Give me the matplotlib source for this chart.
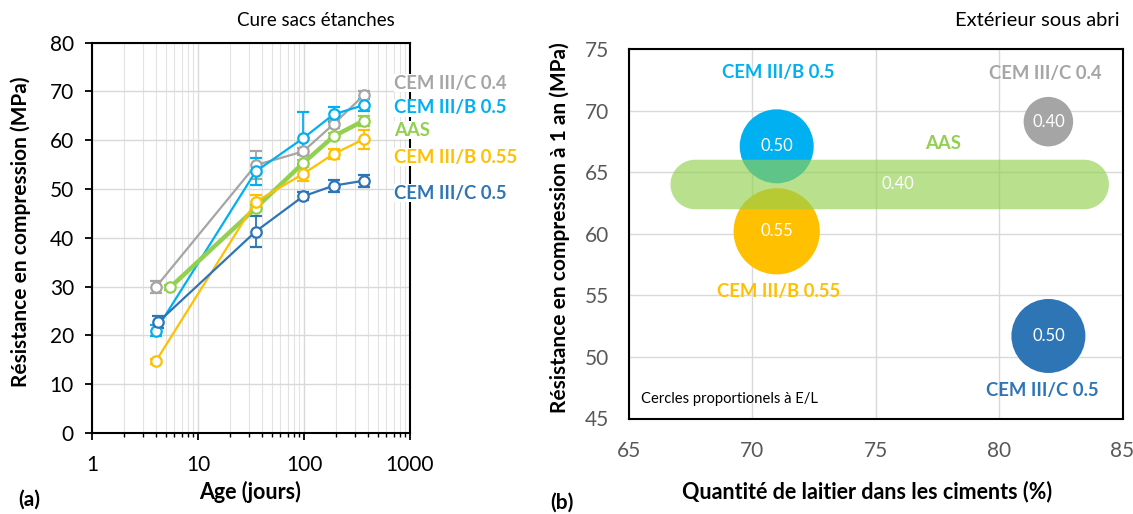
import matplotlib
matplotlib.use("Agg")
import matplotlib.pyplot as plt
from matplotlib.patches import Ellipse, Polygon
from matplotlib.ticker import LogLocator, FixedLocator, NullFormatter
import numpy as np

plt.rcParams['font.family'] = ['Lato', 'DejaVu Sans']

# ---------- data: left panel ----------
series_names = ["CEM III/C 0.4", "CEM III/B 0.5", "AAS", "CEM III/B 0.55", "CEM III/C 0.5"]
ages_c04 = [4.0, 35, 98, 190, 365]
ages_b05 = [4.0, 35, 98, 190, 365]
ages_aas = [5.5, 35, 98, 190, 365]
ages_b055 = [4.0, 35, 98, 190, 365]
ages_c05 = [4.2, 35, 98, 190, 365]
res_c04 = [29.9, 54.9, 57.7, 63.3, 69.2]
res_b05 = [21.0, 53.6, 60.4, 65.3, 67.2]
res_aas = [29.9, 46.1, 55.3, 60.8, 64.0]
res_b055 = [14.7, 47.4, 53.1, 57.2, 60.2]
res_c05 = [22.7, 41.3, 48.5, 50.7, 51.7]
err_c04 = [1.3, 2.8, 0.8, 0.8, 0.8]
err_b05 = [1.2, 2.8, 5.3, 1.6, 1.3]
err_aas = [0.5, 0.6, 0.6, 0.6, 1.0]
err_b055 = [0.5, 1.4, 1.5, 1.0, 2.0]
err_c05 = [1.2, 3.2, 0.8, 1.2, 1.2]

# ---------- data: right panel ----------
bubble_names = ["CEM III/B 0.5", "CEM III/C 0.4", "CEM III/B 0.55", "CEM III/C 0.5"]
slag_pct = [71, 82, 71, 82]
res_1an = [67.1, 69.1, 60.2, 51.7]
el_ratio = [0.50, 0.40, 0.55, 0.50]
aas_slag_range = [66.7, 84.45]
aas_res = 64.0
aas_el = 0.40

col_c04 = "#A5A5A5"
col_b05 = "#00B0F0"
col_aas = "#92D050"
col_b055 = "#FFC000"
col_c05 = "#2E75B6"

W, H = 1133, 514
fig = plt.figure(figsize=(W / 100, H / 100), dpi=100)

def fx(px):
    return px / W

def fy(py):
    return 1 - py / H

# ================= Left panel =================
ax = fig.add_axes([fx(92), fy(433), (410 - 92) / W, (433 - 42.7) / H])
ax.set_xscale("log")
ax.set_xlim(1, 1000)
ax.set_ylim(0, 80)
ax.set_yticks(range(0, 81, 10))
ax.xaxis.set_major_locator(FixedLocator([1, 10, 100, 1000]))
ax.set_xticklabels(["1", "10", "100", "1000"])
ax.xaxis.set_minor_locator(LogLocator(base=10, subs=np.arange(2, 10)))
ax.xaxis.set_minor_formatter(NullFormatter())
ax.grid(True, which="major", color="#D9D9D9", lw=1.0)
ax.grid(True, which="minor", axis="x", color="#E3E3E3", lw=0.8)
ax.set_axisbelow(True)
for s in ax.spines.values():
    s.set_color("black")
    s.set_linewidth(1.5)
ax.tick_params(axis="both", which="major", labelsize=15, direction="out", length=5, width=1.3)
ax.tick_params(axis="x", which="minor", direction="out", length=3, width=1.0)
ax.tick_params(axis="x", which="major", pad=11)
ax.tick_params(axis="y", which="major", pad=8)

series = [
    (ages_c04, res_c04, err_c04, col_c04, 1.6),
    (ages_b05, res_b05, err_b05, col_b05, 1.6),
    (ages_aas, res_aas, err_aas, col_aas, 3.2),
    (ages_b055, res_b055, err_b055, col_b055, 1.6),
    (ages_c05, res_c05, err_c05, col_c05, 1.6),
]
for x, y, e, c, lw in series:
    ax.errorbar(x, y, yerr=e, color=c, lw=lw, marker="o", markersize=7.5,
                markerfacecolor="white", markeredgecolor=c, markeredgewidth=1.6,
                ecolor=c, elinewidth=1.3, capsize=4, capthick=1.3, zorder=3)

label_pos_y = [83, 108, 130, 157, 193]
label_cols = [col_c04, col_b05, col_aas, col_b055, col_c05]
for name, py, c in zip(series_names, label_pos_y, label_cols):
    fig.text(fx(394), fy(py), name, color=c, fontsize=13.3, fontweight="bold",
             ha="left", va="center",
             bbox=dict(facecolor="white", edgecolor="none", pad=0.3))

fig.text(fx(21), fy(232), "Résistance en compression (MPa)", fontsize=15, fontweight="bold",
         rotation=90, ha="center", va="center")
fig.text(fx(250), fy(492), "Age (jours)", fontsize=15.5, fontweight="bold", ha="center", va="center")
fig.text(fx(395), fy(20), "Cure sacs étanches", fontsize=13.5, ha="right", va="center")
fig.text(fx(18), fy(500), "(a)", fontsize=15, fontweight="bold", ha="left", va="center")

# ================= Right panel =================
bl, br, bt, bb = 628.5, 1122.5, 49.0, 418.5
bx = fig.add_axes([fx(bl), fy(bb), (br - bl) / W, (bb - bt) / H])
bx.set_xlim(65, 85)
bx.set_ylim(45, 75)
bx.set_xticks(range(65, 86, 5))
bx.set_yticks(range(45, 76, 5))
bx.grid(True, color="#D9D9D9", lw=1.0)
bx.set_axisbelow(True)
for s in bx.spines.values():
    s.set_color("black")
    s.set_linewidth(1.5)
bx.tick_params(axis="both", length=0, labelsize=15, labelcolor="#595959")
bx.tick_params(axis="y", pad=14)
bx.tick_params(axis="x", pad=16)

# pixel -> data scale factors
px_per_x = (br - bl) / 20.0
px_per_y = (bb - bt) / 30.0

def diam_px(el):
    return 245 * el - 48.5

bubble_cols = [col_b05, col_c04, col_b055, col_c05]
for xv, yv, el, c in zip(slag_pct, res_1an, el_ratio, bubble_cols):
    d = diam_px(el)
    e = Ellipse((xv, yv), width=d / px_per_x, height=d / px_per_y,
                facecolor=c, edgecolor="none", zorder=2)
    bx.add_patch(e)
    bx.text(xv, yv, f"{el:.2f}", color="white", fontsize=12, ha="center", va="center", zorder=4)

# AAS stretched bubble (stadium shape)
ry = diam_px(aas_el) / px_per_y / 2
rx = (diam_px(aas_el) / 2) / px_per_x
xl = aas_slag_range[0] + rx
xr = aas_slag_range[1] - rx
th_r = np.linspace(-np.pi / 2, np.pi / 2, 60)
th_l = np.linspace(np.pi / 2, 3 * np.pi / 2, 60)
pts = np.vstack([
    np.column_stack([xr + rx * np.cos(th_r), aas_res + ry * np.sin(th_r)]),
    np.column_stack([xl + rx * np.cos(th_l), aas_res + ry * np.sin(th_l)]),
])
bx.add_patch(Polygon(pts, closed=True, facecolor=col_aas, alpha=0.65, edgecolor="none", zorder=3))
bx.text(75.9, aas_res, f"{aas_el:.2f}", color="white", fontsize=12, ha="center", va="center", zorder=4)

lbl_pos = [(71.08, 73.1, "CEM III/B 0.5", col_b05), (81.88, 73.0, "CEM III/C 0.4", col_c04),
           (77.75, 67.35, "AAS", col_aas), (71.06, 55.3, "CEM III/B 0.55", col_b055),
           (81.76, 47.3, "CEM III/C 0.5", col_c05)]
for xv, yv, t, c in lbl_pos:
    bx.text(xv, yv, t, color=c, fontsize=13.3, fontweight="bold", ha="center", va="center", zorder=5)

bx.text(65.49, 46.56, "Cercles proportionels à E/L", fontsize=10.6, ha="left", va="center", zorder=5)

fig.text(fx(560), fy(228), "Résistance en compression à 1 an (MPa)", fontsize=15, fontweight="bold",
         rotation=90, ha="center", va="center")
fig.text(fx(867), fy(492), "Quantité de laitier dans les ciments (%)", fontsize=15.5,
         fontweight="bold", ha="center", va="center")
fig.text(fx(1120), fy(20), "Extérieur sous abri", fontsize=14.5, ha="right", va="center")
fig.text(fx(550), fy(503), "(b)", fontsize=15, fontweight="bold", ha="left", va="center")

fig.savefig("out.png", dpi=100)
